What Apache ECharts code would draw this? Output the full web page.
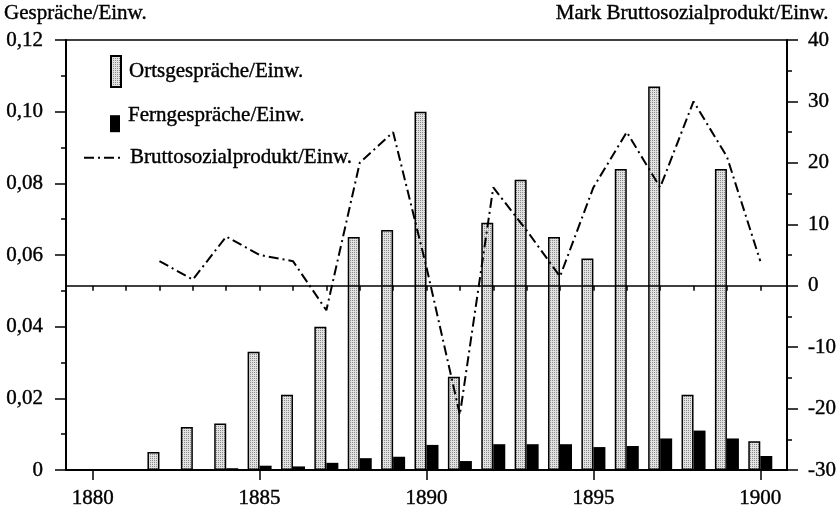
<!doctype html>
<html>
<head>
    <meta charset="UTF-8">
    <title>Gespräche/Einw. und Bruttosozialprodukt/Einw.</title>
    <script src="https://cdn.jsdelivr.net/npm/echarts@6/dist/echarts.min.js"></script>
</head>
<body style="margin:0">
<div id="main" style="width:837px;height:510px;"></div>
<script type="text/javascript">
    // Werte
    var jahre = [1882, 1883, 1884, 1885, 1886, 1887, 1888, 1889, 1890, 1891,
        1892, 1893, 1894, 1895, 1896, 1897, 1898, 1899, 1900];
    var ortsgespraeche = [0.005, 0.012, 0.013, 0.033, 0.021, 0.040, 0.065, 0.067, 0.100, 0.026,
        0.069, 0.081, 0.065, 0.059, 0.084, 0.107, 0.021, 0.084, 0.008];
    var ferngespraeche = [null, null, 0.0005, 0.0012, 0.001, 0.002, 0.0033, 0.0037, 0.007, 0.0025,
        0.0072, 0.0072, 0.0072, 0.0064, 0.0067, 0.0088, 0.011, 0.0088, 0.0039];
    var bruttosozialprodukt = [4, 1, 8, 5, 4, -4, 20, 25, 3, -21,
        16, 9, 1.5, 16, 25, 16, 30, 21, 4];
    var jahrLabels = [1880, 1885, 1890, 1895, 1900];
    var jahrTicks = [1880, 1881, 1882, 1883, 1884, 1885, 1886, 1887, 1888, 1889, 1890,
        1891, 1892, 1893, 1894, 1895, 1896, 1897, 1898, 1899, 1900];

    var schrift = 'Liberation Serif';

    // feines Punktraster fuer die Ortsgespraeche-Balken
    var muster = document.createElement('canvas');
    muster.width = 2;
    muster.height = 2;
    var ctx = muster.getContext('2d');
    ctx.fillStyle = '#e2e2e2';
    ctx.fillRect(0, 0, 2, 2);
    ctx.fillStyle = '#8a8a8a';
    ctx.fillRect(0, 0, 1, 1);

    function paare(werte) {
        return jahre.map(function (j, i) {
            return [j, werte[i]];
        });
    }

    // etwas kraeftigere Schrift wie im Druck
    function schriftStil(extra) {
        var s = {fontFamily: schrift, fontSize: 21, fontWeight: 'normal', color: '#000',
            textBorderColor: '#000', textBorderWidth: 0.4};
        for (var k in extra) s[k] = extra[k];
        return s;
    }

    var myChart = echarts.init(document.getElementById('main'));
    var option = {
        animation: false,
        title: [{
            text: 'Gespräche/Einw.',
            left: 4, top: 3, padding: 0,
            textStyle: schriftStil({})
        }, {
            text: 'Mark Bruttosozialprodukt/Einw.',
            right: 8, top: 3, padding: 0,
            textStyle: schriftStil({})
        }],
        legend: [{
            data: ['Ortsgespräche/Einw.'],
            left: 110, top: 55, padding: 0,
            icon: 'rect', itemWidth: 10, itemHeight: 31,
            textStyle: schriftStil({padding: [0, 0, 0, 3]})
        }, {
            data: ['Ferngespräche/Einw.'],
            left: 110, top: 105, padding: 0,
            icon: 'rect', itemWidth: 10, itemHeight: 17,
            formatter: function (name) { return name + '\n'; },
            textStyle: schriftStil({padding: [0, 0, 0, 3], lineHeight: 16})
        }, {
            data: ['Bruttosozialprodukt/Einw.'],
            left: 83, top: 147, padding: 0,
            itemWidth: 39, itemHeight: 20,
            itemStyle: {opacity: 0},
            lineStyle: {color: '#000', width: 2, type: [10, 4, 2, 4]},
            textStyle: schriftStil({padding: [0, 0, 0, 2]})
        }],
        grid: {
            left: 66, right: 50, top: 40, bottom: 40,
            show: true, borderColor: '#000', borderWidth: 1.5,
            outerBoundsMode: 'none'
        },
        xAxis: [{
            type: 'value', min: 1879.2, max: 1900.8, position: 'bottom',
            axisLine: {show: true, lineStyle: {color: '#000', width: 2}},
            axisTick: {show: true, customValues: jahrLabels, length: 10, lineStyle: {color: '#000', width: 1.5}},
            axisLabel: schriftStil({
                customValues: jahrLabels, margin: 18,
                formatter: function (v) { return String(v); }
            }),
            splitLine: {show: false}
        }, {
            type: 'value', min: 1879.2, max: 1900.8, position: 'bottom',
            axisLine: {show: false},
            axisTick: {show: true, customValues: jahrTicks, length: 5, lineStyle: {color: '#000', width: 1.5}},
            axisLabel: {show: false},
            splitLine: {show: false}
        }],
        yAxis: [{
            type: 'value', min: 0, max: 0.12, interval: 0.02, position: 'left',
            axisLine: {show: true, lineStyle: {color: '#000', width: 2}},
            axisTick: {show: true, length: 11, lineStyle: {color: '#000', width: 1.5}},
            minorTick: {show: true, splitNumber: 2, length: 5, lineStyle: {color: '#000', width: 1.5}},
            axisLabel: schriftStil({
                margin: 23,
                formatter: function (v) {
                    return v === 0 ? '0' : v.toFixed(2).replace('.', ',');
                }
            }),
            splitLine: {show: false}
        }, {
            type: 'value', min: -30, max: 40, interval: 10, position: 'right',
            axisLine: {show: true, lineStyle: {color: '#000', width: 2}},
            axisTick: {show: true, length: 11, lineStyle: {color: '#000', width: 1.5}},
            minorTick: {show: true, splitNumber: 2, length: 5, lineStyle: {color: '#000', width: 1.5}},
            axisLabel: schriftStil({margin: 21}),
            splitLine: {show: false}
        }],
        series: [{
            name: 'Ortsgespräche/Einw.',
            type: 'bar',
            xAxisIndex: 0, yAxisIndex: 0,
            barWidth: 12, barGap: '0%',
            data: paare(ortsgespraeche),
            itemStyle: {color: {image: muster, repeat: 'repeat'}, borderColor: '#000', borderWidth: 1.5}
        }, {
            name: 'Ferngespräche/Einw.',
            type: 'bar',
            xAxisIndex: 0, yAxisIndex: 0,
            barWidth: 12, barGap: '0%',
            data: paare(ferngespraeche),
            itemStyle: {color: '#000'}
        }, {
            name: 'Bruttosozialprodukt/Einw.',
            type: 'line',
            xAxisIndex: 0, yAxisIndex: 1,
            symbol: 'none',
            data: paare(bruttosozialprodukt),
            lineStyle: {color: '#000', width: 2, type: [10, 4, 2, 4]},
            itemStyle: {color: '#000'},
            markLine: {
                silent: true, symbol: 'none', label: {show: false},
                lineStyle: {color: '#000', width: 1.5, type: 'solid'},
                data: [{yAxis: 0}]
            }
        }]
    };
    myChart.setOption(option);
</script>
</body>
</html>
